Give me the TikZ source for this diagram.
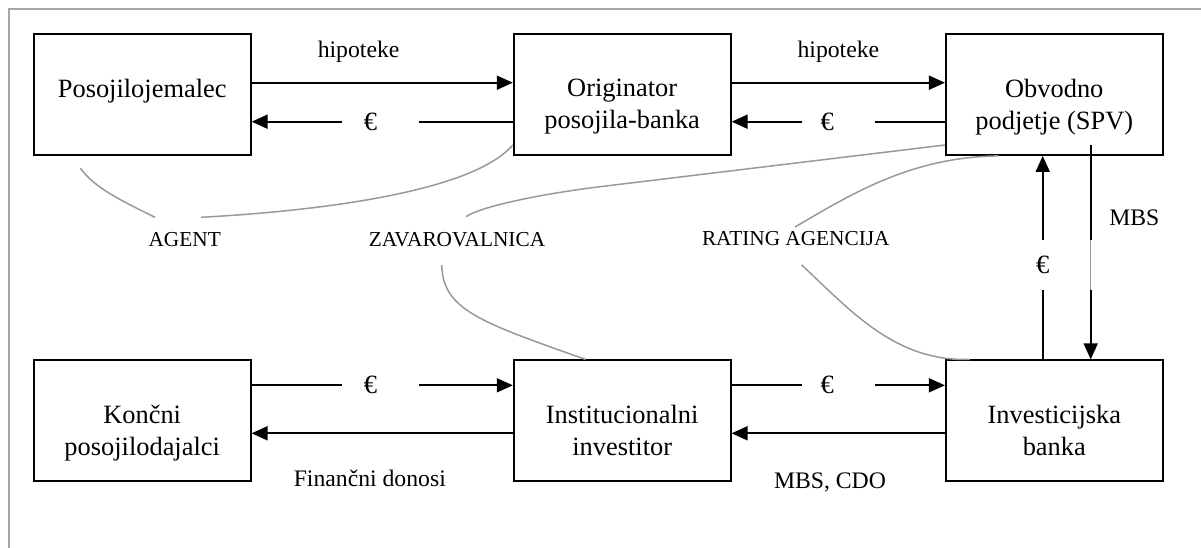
\documentclass[tikz,border=0pt]{standalone}
\usepackage{fontspec}
\setmainfont{Liberation Serif}
\usetikzlibrary{arrows.meta}
\definecolor{framegray}{HTML}{A6A6A6}
\definecolor{linkgray}{HTML}{999999}
\begin{document}
\begin{tikzpicture}[x=1pt,y=-1pt,
  party/.style={draw, line width=1.8pt, minimum width=217pt, minimum height=121pt, inner sep=0pt},
  partytext/.style={font=\fontsize{26.4}{31.7}\selectfont, align=center, anchor=north, inner sep=0pt},
  flow/.style={line width=1.8pt, -{Triangle[length=16pt,width=14pt]}},
  flowlabel/.style={font=\fontsize{23.7}{28}\selectfont, anchor=base, inner sep=0pt},
  cash/.style={fill=white, inner sep=0pt, font=\fontsize{26.4}{30}\selectfont},
  role/.style={font=\fontsize{21.3}{25}\selectfont, anchor=base, inner sep=0pt},
  link/.style={draw=linkgray, line width=1.5pt},
]
\useasboundingbox (0,0) rectangle (1201,548);
% open frame (top and left edges)
\draw[framegray, line width=2pt] (9,548) -- (9,9) -- (1201,9);

% parties
\node[party] (b1) at (142.2,94.5) {};
\node[party] (b2) at (622.2,94.5) {};
\node[party] (b3) at (1054.3,94.5) {};
\node[party] (b4) at (142.2,420.8) {};
\node[party] (b5) at (622.2,420.8) {};
\node[party] (b6) at (1054.3,420.8) {};

\node[partytext] (t1) at ([yshift=-46pt]b1.north) {Posojilojemalec};
\node[partytext] (t2) at ([yshift=-46pt]b2.north) {Originator\\posojila-banka};
\node[partytext] (t3) at ([yshift=-46pt]b3.north) {Obvodno\\podjetje (SPV)};
\node[partytext] (t4) at ([yshift=-46pt]b4.north) {Končni\\posojilodajalci};
\node[partytext] (t5) at ([yshift=-46pt]b5.north) {Institucionalni\\investitor};
\node[partytext] (t6) at ([yshift=-46pt]b6.north) {Investicijska\\banka};

% top row flows
\draw[flow] (b1.east |- 0,82.7) -- (b2.west |- 0,82.7);
\draw[flow] (b2.east |- 0,82.7) -- (b3.west |- 0,82.7);
\draw[flow] (b2.west |- 0,121.7) -- (b1.east |- 0,121.7)
  node[cash, pos=0.507] (e1) {\makebox[77pt]{€\hspace{20pt}}};
\draw[flow] (b3.west |- 0,121.7) -- (b2.east |- 0,121.7)
  node[cash, midway] (e2) {\makebox[73pt]{€\hspace{22pt}}};
\node[flowlabel] (h1) at (358.6,57.3) {hipoteke};
\node[flowlabel] (h2) at (838.4,57.3) {hipoteke};

% bottom row flows
\draw[flow] (b4.east |- 0,385.3) -- (b5.west |- 0,385.3)
  node[cash, pos=0.493] (e3) {\makebox[77pt]{€\hspace{20pt}}};
\draw[flow] (b5.east |- 0,385.3) -- (b6.west |- 0,385.3)
  node[cash, midway] (e4) {\makebox[73pt]{€\hspace{22pt}}};
\draw[flow] (b5.west |- 0,433.3) -- (b4.east |- 0,433.3);
\draw[flow] (b6.west |- 0,433.3) -- (b5.east |- 0,433.3);
\node[flowlabel] (fd) at (369.8,486.7) {Finančni donosi};
\node[flowlabel] (mc) at (830,488.3) {MBS, CDO};

% vertical flows between the investment bank and the SPV
\draw[flow] (b6.north -| 1042.7,0) -- (b3.south -| 1042.7,0)
  node[cash, pos=0.465, minimum height=50pt] (e5) {€};
\coordinate (mbsTop) at (1090.7,145);
\coordinate (mbsA) at (1090.7,240);
\coordinate (mbsB) at (1090.7,290);
\draw[flow] (mbsTop) -- (b6.north -| mbsTop);
\draw[white, line width=2.2pt] (mbsA) -- (mbsB);
\draw[linkgray, line width=0.7pt] (mbsA) -- (mbsB);
\node[flowlabel] (mbs) at (1134.3,225) {MBS};

% supporting roles
\node[role] (agent) at (184.7,246.7) {AGENT};
\node[role] (zav) at (457,246.7) {ZAVAROVALNICA};
\node[role] (rat) at (795.8,245.7) {RATING AGENCIJA};

\coordinate (a1s) at (80.4,168.3);
\coordinate (a1e) at (155,217.3);
\coordinate (a2s) at (201,217.3);
\coordinate (z1s) at (466,216.7);
\coordinate (z1m) at (600,186.7);
\coordinate (z2s) at (441.7,265);
\coordinate (r1s) at (795,227);
\coordinate (r2s) at (801.7,265);

\draw[link] (a1s) .. controls (95,188) and (120,200) .. (a1e);
\draw[link] (a2s) .. controls (300,212) and (470,195) .. (b2.west |- 0,145);
\draw[link] (z1s) .. controls (485,204) and (560,191.5) .. (z1m) -- (b3.west |- 0,145);
\draw[link] (z2s) .. controls (443,310) and (480,322) .. (b5.north -| 585.5,0);
\draw[link] (r1s) .. controls (850,195) and (910,157) .. (b3.south -| 998.6,0);
\draw[link] (r2s) .. controls (850,310) and (895,362) .. (b6.north -| 969.9,0);
\end{tikzpicture}
\end{document}
